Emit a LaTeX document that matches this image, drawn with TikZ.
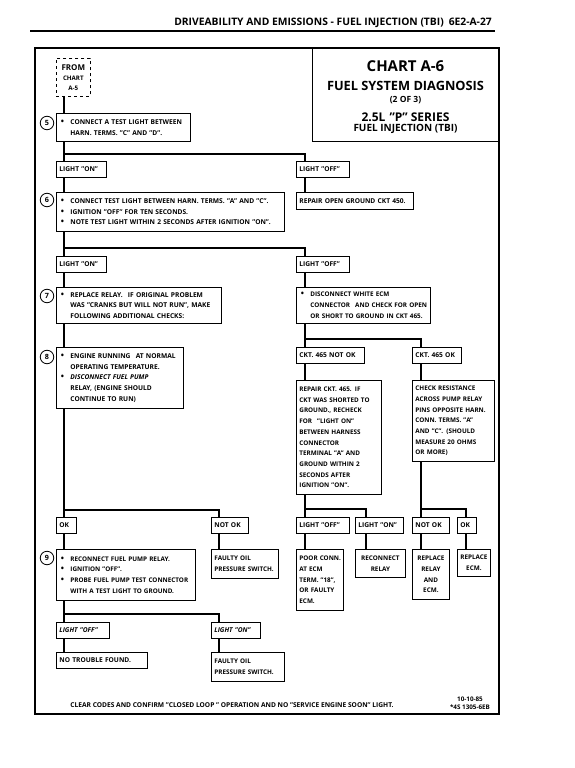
\documentclass[tikz,border=0pt]{standalone}
\usepackage{fontspec}
\setmainfont{Open Sans}
\usepackage{tikz}
\usetikzlibrary{positioning}
\newcommand{\boxfont}{\bfseries\fontsize{6.65}{10.7}\selectfont}
\newcommand{\tightfont}{\bfseries\fontsize{6.35}{10.7}\selectfont}
\newcommand{\bul}{\makebox[11pt][l]{\hspace{1.5pt}{\fontsize{8.5}{8}\selectfont\textbullet}}}
\newcommand{\ind}{\hspace*{11pt}}

\tikzset{
  box/.style={draw, line width=0.8pt, anchor=north west, inner xsep=3pt,
    inner ysep=1pt, align=left, font=\boxfont,
    execute at begin node={\hyphenpenalty=10000\rightskip=0pt plus 1fil minus 30pt}},
  cbox/.style={box, align=center,
    execute at begin node={\leftskip=0pt plus 1fil minus 15pt\rightskip=0pt plus 1fil minus 15pt}},
  wire/.style={line width=2.4pt},
  stepnum/.style={circle, draw, line width=0.8pt, minimum size=13.5pt,
    inner sep=0pt, font=\bfseries\fontsize{7.2}{8}\selectfont}
}

\begin{document}
\begin{tikzpicture}[x=1pt, y=-1pt]

  \useasboundingbox (0,0) rectangle (575,768);

  % Page header and frame
  \node[anchor=east, inner sep=0pt, font=\bfseries\fontsize{10.3}{12}\selectfont] (header)
    at (492,23) {DRIVEABILITY AND EMISSIONS - FUEL INJECTION (TBI)\hspace{5pt}6E2-A-27};
  \draw[line width=1.5pt] (30,31) -- (495,31);
  \draw[line width=1.3pt] (35,48) rectangle (499,714);

  % Title block
  \node[draw, line width=1.1pt, anchor=north west, minimum width=187, minimum height=93,
    inner sep=0pt] (titlebox) at (312,48) {};
  \node[font=\bfseries\fontsize{15}{16}\selectfont] (t1) at (405.5,66) {CHART A-6};
  \node[font=\bfseries\fontsize{12.8}{14}\selectfont] (t2) at (405.5,86) {FUEL SYSTEM DIAGNOSIS};
  \node[font=\bfseries\fontsize{8.5}{10}\selectfont] (t3) at (405.5,100) {(2 OF 3)};
  \node[font=\bfseries\fontsize{12}{14}\selectfont] (t4) at (405.5,117) {2.5L\hspace{4pt}"P" SERIES};
  \node[font=\bfseries\fontsize{10}{12}\selectfont] (t5) at (405.5,129) {FUEL INJECTION (TBI)};

  % Columns and branch levels
  \coordinate (colA) at (64,0);
  \coordinate (colB) at (219,0);
  \coordinate (colC) at (305,0);
  \coordinate (colD) at (366,0);
  \coordinate (colE) at (421,0);
  \coordinate (colF) at (466,0);
  \coordinate (br1) at (0,154);
  \coordinate (br2) at (0,248);
  \coordinate (br3) at (0,339);
  \coordinate (br4) at (0,510);
  \coordinate (br5) at (0,509);
  \coordinate (br6) at (0,614);

  % Left column
  \node[box, dashed, line width=0.7pt, align=center, minimum width=34, minimum height=38,
    inner xsep=1pt, font=\bfseries\fontsize{6.2}{10}\selectfont] (from) at (56,58)
    {{\fontsize{8}{8}\selectfont FROM}\\CHART\\A-5};
  \node[box, text width=128, minimum height=28] (s5) at (56,113)
    {\bul CONNECT A TEST LIGHT BETWEEN\\\ind HARN. TERMS. "C" AND "D".};
  \node[box, text width=44, minimum height=16] (on1) at (56,161) {LIGHT "ON"};
  \node[box, text width=222, minimum height=39] (s6) at (56,192)
    {\bul CONNECT TEST LIGHT BETWEEN HARN. TERMS. "A" AND "C".\\
     \bul IGNITION "OFF" FOR TEN SECONDS.\\
     \bul NOTE TEST LIGHT WITHIN 2 SECONDS AFTER IGNITION "ON".};
  \node[box, text width=44, minimum height=16] (on2) at (56,256) {LIGHT "ON"};
  \node[box, text width=159, minimum height=36] (s7) at (56,287)
    {\bul REPLACE RELAY.\hspace{3pt} IF ORIGINAL PROBLEM\\
     \ind WAS "CRANKS BUT WILL NOT RUN", MAKE\\
     \ind FOLLOWING ADDITIONAL CHECKS:};
  \node[box, text width=121, minimum height=61] (s8) at (56,347)
    {\bul ENGINE RUNNING\hspace{3pt} AT NORMAL\\
     \ind OPERATING TEMPERATURE.\\
     \bul \textit{DISCONNECT FUEL PUMP}\\
     \ind RELAY, (ENGINE SHOULD\\
     \ind CONTINUE TO RUN)};
  \node[box, text width=14, minimum height=16] (ok) at (56,517) {OK};
  \node[box, text width=31, minimum height=16] (notok) at (211,517) {NOT OK};
  \node[box, font=\tightfont, text width=133, minimum height=51] (s9) at (56,549)
    {\bul RECONNECT FUEL PUMP RELAY.\\
     \bul IGNITION "OFF".\\
     \bul PROBE FUEL PUMP TEST CONNECTOR\\
     \ind WITH A TEST LIGHT TO GROUND.};
  \node[box, font=\tightfont, text width=61, minimum height=29] (faulty1) at (211,549)
    {FAULTY OIL\\PRESSURE SWITCH.};
  \node[box, text width=47, minimum height=16] (off9) at (56,622) {\textit{LIGHT "OFF"}};
  \node[box, text width=43, minimum height=16] (on9) at (211,622) {\textit{LIGHT "ON"}};
  \node[box, text width=85, minimum height=16] (notrouble) at (56,652) {NO TROUBLE FOUND.};
  \node[box, font=\tightfont, text width=67, minimum height=29] (faulty2) at (211,652)
    {FAULTY OIL\\PRESSURE SWITCH.};

  % Step numbers
  \node[stepnum] (n5) at (47,123) {5};
  \node[stepnum] (n6) at (47,200) {6};
  \node[stepnum] (n7) at (47,296) {7};
  \node[stepnum] (n8) at (47,357) {8};
  \node[stepnum] (n9) at (47,558) {9};

  % Right column
  \node[box, text width=47, minimum height=16] (off1) at (296,161) {LIGHT "OFF"};
  \node[box, text width=111, minimum height=17] (rep450) at (296,192)
    {REPAIR OPEN GROUND CKT 450.};
  \node[box, text width=47, minimum height=16] (off2) at (296,256) {LIGHT "OFF"};
  \node[box, font=\tightfont, text width=128, minimum height=36] (discon) at (296,287)
    {\bul DISCONNECT WHITE ECM\\
     \ind CONNECTOR\hspace{3pt} AND CHECK FOR OPEN\\
     \ind OR SHORT TO GROUND IN CKT 465.};
  \node[box, text width=62, minimum height=16] (nok465) at (296,347) {CKT. 465 NOT OK};
  \node[box, text width=43, minimum height=16] (ok465) at (412,347) {CKT. 465 OK};
  \node[box, font=\tightfont, text width=79, minimum height=114] (rep465) at (296,380)
    {REPAIR CKT. 465. IF\\CKT WAS SHORTED TO\\GROUND., RECHECK\\
     FOR\hspace{3pt} "LIGHT ON"\\BETWEEN HARNESS\\CONNECTOR\\TERMINAL "A" AND\\
     GROUND WITHIN 2\\SECONDS AFTER\\IGNITION "ON".};
  \node[box, font=\tightfont, text width=76, minimum height=81] (checkres) at (412,380)
    {CHECK RESISTANCE\\ACROSS PUMP RELAY\\PINS OPPOSITE HARN.\\CONN. TERMS. "A"\\
     AND "C". (SHOULD\\MEASURE 20 OHMS\\OR MORE)};
  \node[box, text width=47, minimum height=16] (offc) at (296,517) {LIGHT "OFF"};
  \node[box, text width=42, minimum height=16] (onc) at (355,517) {LIGHT "ON"};
  \node[box, text width=31, minimum height=16] (nokr) at (412,517) {NOT OK};
  \node[box, text width=13, minimum height=16] (okr) at (457,517) {OK};
  \node[box, font=\tightfont, text width=41, minimum height=61] (poor) at (296,549)
    {POOR CONN.\\AT ECM\\TERM. "18",\\OR FAULTY\\ECM.};
  \node[cbox, font=\tightfont, text width=44, minimum height=28] (reconn) at (355,549)
    {RECONNECT\\RELAY};
  \node[cbox, font=\tightfont, text width=31, minimum height=50] (replrelay) at (412,549)
    {REPLACE\\RELAY\\AND\\ECM.};
  \node[cbox, font=\tightfont, text width=27, minimum height=27] (replecm) at (457,549)
    {REPLACE\\ECM.};

  % Footer
  \node[font=\boxfont] (footer) at (232,705)
    {CLEAR CODES AND CONFIRM "CLOSED LOOP " OPERATION AND NO "SERVICE ENGINE SOON" LIGHT.};
  \node[align=center, font=\bfseries\fontsize{6.3}{8}\selectfont] (code) at (470,703)
    {10-10-85\\*4S 1305-6EB};

  % Flow lines, left
  \draw[wire] (colA |- from.south) -- (colA |- s5.north);
  \draw[wire] (colA |- s5.south) -- (colA |- on1.north);
  \draw[wire] (colA |- br1) -| (colC |- off1.north);
  \draw[wire] (colA |- on1.south) -- (colA |- s6.north);
  \draw[wire] (colA |- s6.south) -- (colA |- on2.north);
  \draw[wire] (colA |- br2) -| (colC |- off2.north);
  \draw[wire] (colA |- on2.south) -- (colA |- s7.north);
  \draw[wire] (colA |- s7.south) -- (colA |- s8.north);
  \draw[wire] (colA |- s8.south) -- (colA |- ok.north);
  \draw[wire] (colA |- br4) -| (colB |- notok.north);
  \draw[wire] (colA |- ok.south) -- (colA |- s9.north);
  \draw[wire] (colB |- notok.south) -- (colB |- faulty1.north);
  \draw[wire] (colA |- s9.south) -- (colA |- off9.north);
  \draw[wire] (colA |- br6) -| (colB |- on9.north);
  \draw[wire] (colA |- off9.south) -- (colA |- notrouble.north);
  \draw[wire] (colB |- on9.south) -- (colB |- faulty2.north);

  % Flow lines, right
  \draw[wire] (colC |- off1.south) -- (colC |- rep450.north);
  \draw[wire] (colC |- off2.south) -- (colC |- discon.north);
  \draw[wire] (colC |- discon.south) -- (colC |- nok465.north);
  \draw[wire] (colC |- br3) -| (colE |- ok465.north);
  \draw[wire] (colC |- nok465.south) -- (colC |- rep465.north);
  \draw[wire] (colE |- ok465.south) -- (colE |- checkres.north);
  \draw[wire] (colC |- rep465.south) -- (colC |- offc.north);
  \draw[wire] (colC |- br5) -| (colD |- onc.north);
  \draw[wire] (colE |- checkres.south) -- (colE |- nokr.north);
  \draw[wire] (colE |- br5) -| (colF |- okr.north);
  \draw[wire] (colC |- offc.south) -- (colC |- poor.north);
  \draw[wire] (colD |- onc.south) -- (colD |- reconn.north);
  \draw[wire] (colE |- nokr.south) -- (colE |- replrelay.north);
  \draw[wire] (colF |- okr.south) -- (colF |- replecm.north);

\end{tikzpicture}
\end{document}
